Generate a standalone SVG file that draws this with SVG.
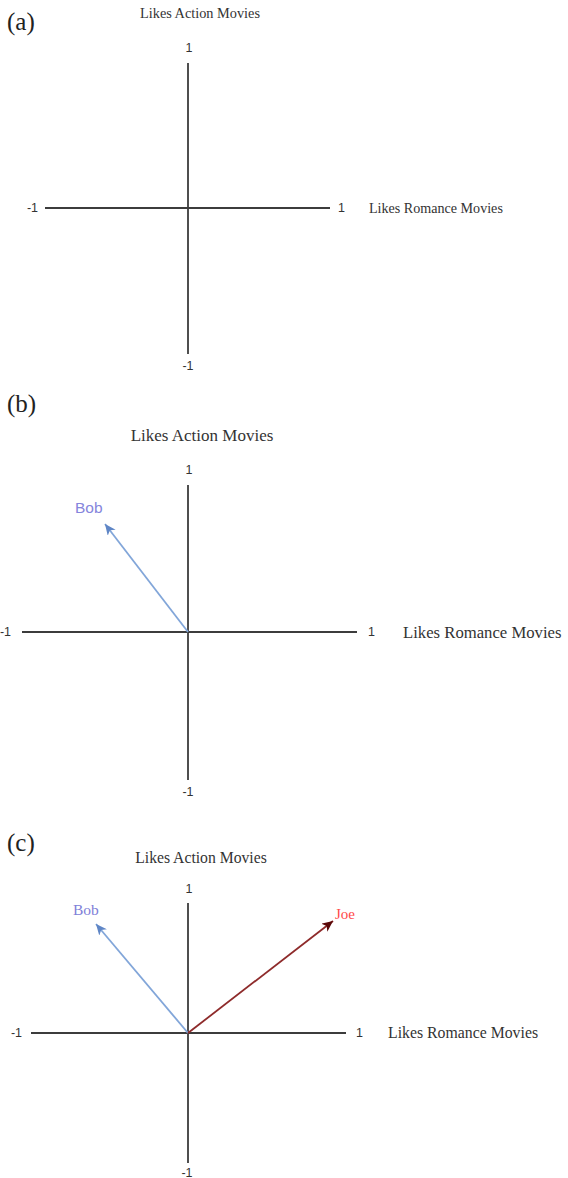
<svg xmlns="http://www.w3.org/2000/svg" width="568" height="1178" viewBox="0 0 568 1178">
<style>
.axis{stroke:#3c3c3c;stroke-width:1.8;fill:none}
.panel{font-family:"Liberation Serif",serif;font-size:25px;fill:#222}
.title{font-family:"Liberation Serif",serif;fill:#333}
.tick{font-family:"Liberation Sans",Arial,sans-serif;font-size:12.5px;fill:#333}
.bob{stroke:#82a6d9;stroke-width:1.8;fill:none}
.joe{stroke:#8e2b2b;stroke-width:1.8;fill:none}
</style>
<defs>
<marker id="ahBlue" markerUnits="userSpaceOnUse" markerWidth="12" markerHeight="10" refX="11" refY="5" orient="auto"><path d="M0,0 L11,5 L0,10 L3,5 Z" fill="#5f86c6"/></marker>
<marker id="ahRed" markerUnits="userSpaceOnUse" markerWidth="12" markerHeight="10" refX="11" refY="5" orient="auto"><path d="M0,0 L11,5 L0,10 L3,5 Z" fill="#5a0808"/></marker>
</defs>

<!-- Panel (a) -->
<g id="panel-a">
<text class="panel" x="7" y="30">(a)</text>
<text class="title" x="200" y="18" font-size="14.3" text-anchor="middle">Likes Action Movies</text>
<text class="tick" x="189" y="52" text-anchor="middle">1</text>
<text class="tick" x="188" y="370" text-anchor="middle">-1</text>
<text class="tick" x="38" y="212" text-anchor="end">-1</text>
<text class="tick" x="338" y="212">1</text>
<text class="title" x="369" y="213" font-size="14.1">Likes Romance Movies</text>
</g>

<!-- Panel (b) -->
<g id="panel-b">
<text class="panel" x="7" y="412">(b)</text>
<text class="title" x="202" y="441" font-size="17" text-anchor="middle">Likes Action Movies</text>
<text class="tick" x="189" y="474" text-anchor="middle">1</text>
<text class="tick" x="188" y="796" text-anchor="middle">-1</text>
<text class="tick" x="11" y="636" text-anchor="end">-1</text>
<text class="tick" x="368" y="636">1</text>
<text class="title" x="403" y="638" font-size="16.7">Likes Romance Movies</text>
</g>
<g id="bob-b"><text x="75" y="513" font-family="'Liberation Sans',Arial,sans-serif" font-size="15.5" fill="#8585dc">Bob</text></g>

<!-- Panel (c) -->
<g id="panel-c">
<text class="panel" x="7" y="851">(c)</text>
<text class="title" x="201" y="863" font-size="15.7" text-anchor="middle">Likes Action Movies</text>
<text class="tick" x="189" y="893" text-anchor="middle">1</text>
<text class="tick" x="187" y="1177" text-anchor="middle">-1</text>
<text class="tick" x="22" y="1037" text-anchor="end">-1</text>
<text class="tick" x="356" y="1037">1</text>
<text class="title" x="388" y="1038" font-size="15.8">Likes Romance Movies</text>
</g>
<g id="bob-c"><text x="73" y="915" font-family="'Liberation Serif',serif" font-size="15.5" fill="#8080d8">Bob</text></g>
<g id="joe-c"><text x="335" y="919" font-family="'Liberation Serif',serif" font-size="15" fill="#ff4a4a">Joe</text></g>

<!-- Connectors -->
<g id="connectors">
<line class="axis" x1="188" y1="63" x2="188" y2="354"/>
<line class="axis" x1="45" y1="208" x2="330" y2="208"/>
<line class="axis" x1="188" y1="485" x2="188" y2="780"/>
<line class="axis" x1="22" y1="632" x2="357" y2="632"/>
<line class="bob" x1="188" y1="632" x2="105" y2="524" marker-end="url(#ahBlue)"/>
<line class="axis" x1="188" y1="903" x2="188" y2="1163"/>
<line class="axis" x1="31" y1="1033" x2="346" y2="1033"/>
<line class="bob" x1="188" y1="1033" x2="96" y2="924" marker-end="url(#ahBlue)"/>
<line class="joe" x1="188" y1="1033" x2="333" y2="921" marker-end="url(#ahRed)"/>
</g>
</svg>
